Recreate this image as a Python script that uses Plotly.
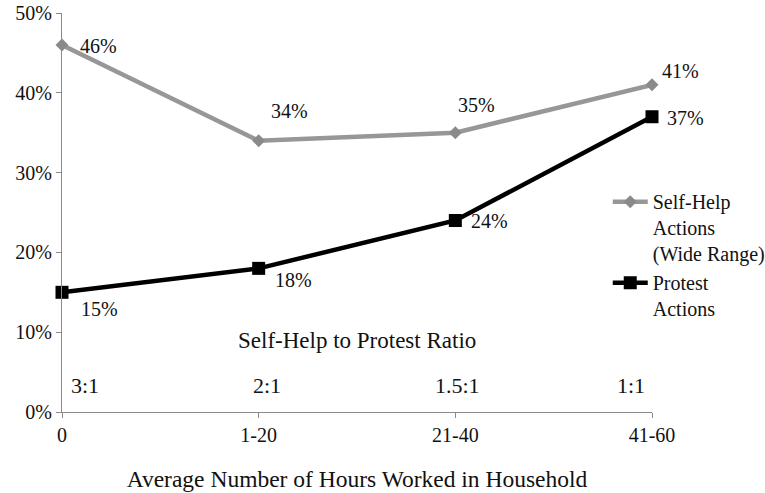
import plotly.graph_objects as go

categories = ["0", "1-20", "21-40", "41-60"]
self_help = [46, 34, 35, 41]
protest = [15, 18, 24, 37]
ratios = ["3:1", "2:1", "1.5:1", "1:1"]
ratio_title = "Self-Help to Protest Ratio"
y_ticks = [0, 10, 20, 30, 40, 50]

FONT = "Liberation Serif"
TXT = "#111111"
xs = list(range(len(categories)))

fig = go.Figure()
fig.add_trace(go.Scatter(
    x=xs, y=self_help, mode="lines+markers",
    name="Self-Help<br>Actions<br>(Wide Range)",
    line=dict(color="#979797", width=4.5),
    marker=dict(symbol="diamond", size=10, color="#8a8a8a"),
    cliponaxis=False,
))
fig.add_trace(go.Scatter(
    x=xs, y=protest, mode="lines+markers",
    name="Protest<br>Actions",
    line=dict(color="#000000", width=4.5),
    marker=dict(symbol="square", size=13, color="#000000"),
    cliponaxis=False,
))

lab_font = dict(family=FONT, size=20, color=TXT)
ann = []
sh_off = [(36, -1), (31, 30), (21, 28), (28, 14)]
pr_off = [(37, -17), (35, -12), (34, -1), (33, -1)]
for i, v in enumerate(self_help):
    ann.append(dict(x=xs[i], y=v, text=f"{v}%", showarrow=False, font=lab_font,
                    xshift=sh_off[i][0], yshift=sh_off[i][1]))
for i, v in enumerate(protest):
    ann.append(dict(x=xs[i], y=v, text=f"{v}%", showarrow=False, font=lab_font,
                    xshift=pr_off[i][0], yshift=pr_off[i][1]))
ann.append(dict(x=1.5, y=8.9, text=ratio_title, showarrow=False,
                font=dict(family=FONT, size=23, color=TXT)))
r_off = [22.5, 8, 2, -21.5]
for i, r in enumerate(ratios):
    ann.append(dict(x=xs[i], y=3.26, text=r, showarrow=False, xshift=r_off[i],
                    font=dict(family=FONT, size=22, color=TXT)))

fig.update_layout(
    width=765, height=493,
    margin=dict(l=62, r=113, t=13, b=81, autoexpand=False),
    paper_bgcolor="white", plot_bgcolor="white",
    font=dict(family=FONT, size=20, color=TXT),
    annotations=ann,
    showlegend=True,
    legend=dict(x=0.925, y=0.576, xanchor="left", yanchor="top",
                font=dict(family=FONT, size=20, color=TXT), tracegroupgap=0,
                itemwidth=35, valign="top",
                bgcolor="rgba(0,0,0,0)"),
    xaxis=dict(
        range=[0, 3], tickmode="array", tickvals=xs, ticktext=categories,
        showgrid=False, zeroline=False, showline=True, linecolor="#8a8a8a",
        linewidth=1, ticks="outside", ticklen=5, tickcolor="#8a8a8a",
        title=dict(text="Average Number of Hours Worked in Household",
                   font=dict(family=FONT, size=23.5, color=TXT), standoff=25),
        tickfont=dict(family=FONT, size=20, color=TXT), automargin=False,
    ),
    yaxis=dict(
        range=[0, 50], tickmode="array", tickvals=y_ticks,
        ticktext=[f"{t}%" for t in y_ticks],
        showgrid=False, zeroline=False, showline=True, linecolor="#8a8a8a",
        linewidth=1, ticks="outside", ticklen=5, tickcolor="#8a8a8a",
        tickfont=dict(family=FONT, size=20, color=TXT), automargin=False,
    ),
)

fig.write_html("out.html", config={"displayModeBar": False},
               post_script="document.body.style.margin='0';")
